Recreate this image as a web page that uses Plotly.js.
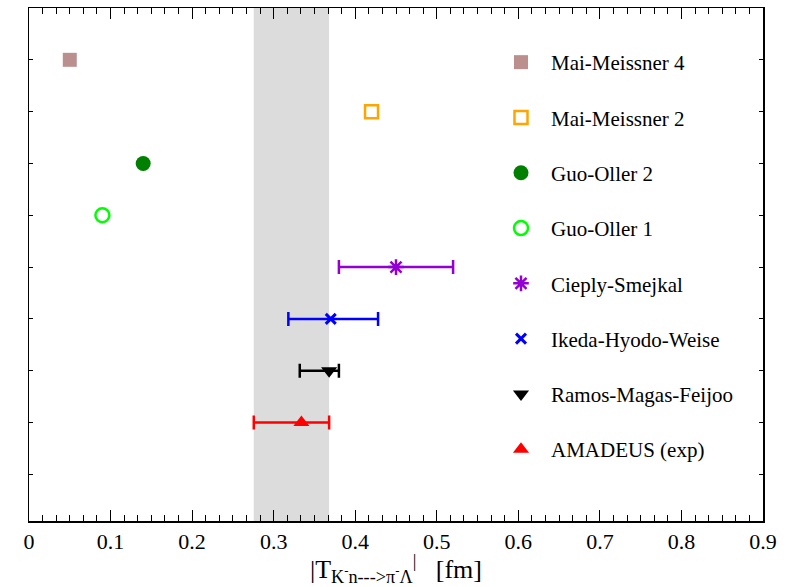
<!DOCTYPE html>
<html>
<head>
<meta charset="utf-8">
<script src="https://cdn.plot.ly/plotly-3.0.1.min.js"></script>
<style>html,body{margin:0;padding:0;background:#fff;}#chart{width:794px;height:587px;}</style>
</head>
<body>
<div id="chart"></div>
<script>
// Data
const names = ["Mai-Meissner 4","Mai-Meissner 2","Guo-Oller 2","Guo-Oller 1","Cieply-Smejkal","Ikeda-Hyodo-Weise","Ramos-Magas-Feijoo","AMADEUS (exp)"];
const rows = [9, 8, 7, 6, 5, 4, 3, 2];
const values = [0.05, 0.42, 0.14, 0.09, 0.45, 0.37, 0.368, 0.334];
const errPlus = [null, null, null, null, 0.07, 0.058, 0.012, 0.034];
const errMinus = [null, null, null, null, 0.07, 0.052, 0.036, 0.0584];
const bandRange = [0.2756, 0.368];
const xTicks = [0, 0.1, 0.2, 0.3, 0.4, 0.5, 0.6, 0.7, 0.8, 0.9];
const xTickText = ["0", "0.1", "0.2", "0.3", "0.4", "0.5", "0.6", "0.7", "0.8", "0.9"];
const yTicks = [1, 2, 3, 4, 5, 6, 7, 8, 9];

const styles = [
  {symbol:"square", color:"#bc8f8f", size:14, lw:0},
  {symbol:"square-open", color:"#ffa500", size:13, lw:2.5},
  {symbol:"circle", color:"#008000", size:15, lw:0},
  {symbol:"circle-open", color:"#00ff00", size:14, lw:2.5},
  {symbol:"asterisk-open", color:"#9400d3", size:13, lw:2.5},
  {symbol:"x-thin-open", color:"#0000ff", size:10, lw:3},
  {symbol:"triangle-down", color:"#000000", size:14, lw:0},
  {symbol:"triangle-up", color:"#ff0000", size:14, lw:0}
];

const traces = names.map((n, i) => {
  const s = styles[i];
  const t = {
    type: "scatter", mode: "markers", name: n,
    x: [values[i]], y: [rows[i]],
    legendgroup: "g" + i,
    marker: {symbol: s.symbol, color: s.color, size: s.size, line: {color: s.color, width: s.lw}},
    cliponaxis: false
  };
  if (errPlus[i] !== null) {
    t.error_x = {type: "data", symmetric: false, array: [errPlus[i]], arrayminus: [errMinus[i]],
                 color: s.color, thickness: 2.5, width: 7};
  }
  return t;
});
// empty helper trace so the minor-tick overlay axis is drawn
traces.push({type: "scatter", mode: "markers", x: [], y: [], xaxis: "x2", yaxis: "y", showlegend: false, hoverinfo: "skip"});

const serif = "'Liberation Serif'";
const L = 29, R = 763;
const layout = {
  width: 794, height: 587,
  margin: {l: L, r: 794 - R, t: 8, b: 66},
  paper_bgcolor: "#fff", plot_bgcolor: "#fff",
  font: {family: serif, size: 22, color: "#000"},
  showlegend: true,
  legend: {
    x: (491 - L) / (R - L), y: (587 - 66 - 42) / (587 - 66 - 8) , xanchor: "left", yanchor: "top",
    font: {family: serif, size: 21, color: "#000"},
    bgcolor: "rgba(0,0,0,0)", borderwidth: 0,
    traceorder: "grouped", tracegroupgap: 25, itemwidth: 50
  },
  xaxis: {
    range: [0, 0.9], tickmode: "array", tickvals: xTicks, ticktext: xTickText,
    tickfont: {family: serif, size: 22, color: "#000"},
    ticks: "inside", ticklen: 11, tickwidth: 1.2, tickcolor: "#000",
    showline: true, linecolor: "#000", linewidth: 1.5, mirror: "ticks",
    showgrid: false, zeroline: false,
    title: {text: "|T<sub>K<sup>-</sup>n--->π<sup>-</sup>Λ</sub><sup>|</sup>&nbsp;&nbsp;&nbsp;[fm]",
            font: {family: serif, size: 26, color: "#000"}, standoff: 1}
  },
  xaxis2: {
    overlaying: "x", anchor: "y", side: "bottom", range: [0, 0.9],
    tickmode: "linear", tick0: 0, dtick: 0.1 / 6,
    ticks: "inside", ticklen: 6, tickwidth: 1, tickcolor: "#000",
    showticklabels: false, showline: false, showgrid: false, zeroline: false, mirror: "ticks"
  },
  yaxis: {
    range: [0.1, 10], tickmode: "array", tickvals: yTicks, showticklabels: false,
    ticks: "inside", ticklen: 4, tickwidth: 1, tickcolor: "#000",
    showline: true, linecolor: "#000", linewidth: 1.5, mirror: "ticks",
    showgrid: false, zeroline: false
  },
  shapes: [{
    type: "rect", xref: "x", yref: "paper", x0: bandRange[0], x1: bandRange[1], y0: 0, y1: 1,
    fillcolor: "#dcdcdc", line: {width: 0}, layer: "below"
  }]
};

Plotly.newPlot("chart", traces, layout, {displayModeBar: false, staticPlot: true});
</script>
</body>
</html>
